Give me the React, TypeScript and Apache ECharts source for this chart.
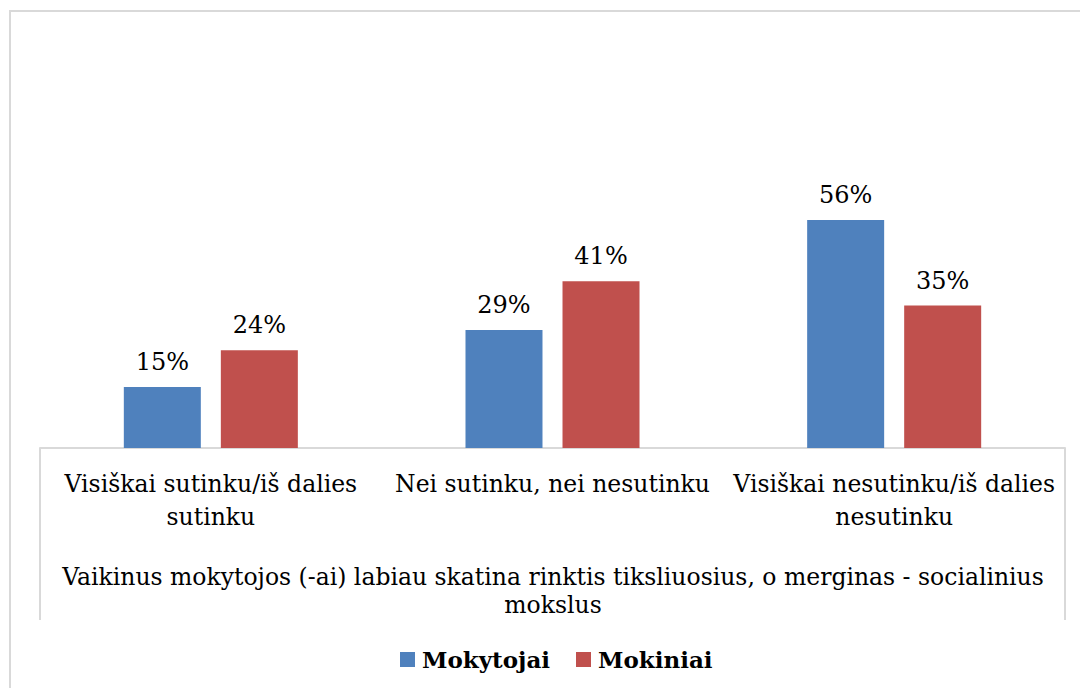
import React, { useEffect, useRef } from "react";
import * as echarts from "echarts";

const categories = [
  "Visiškai sutinku/iš dalies\nsutinku",
  "Nei sutinku, nei nesutinku",
  "Visiškai nesutinku/iš dalies\nnesutinku",
];
const seriesNames = ["Mokytojai", "Mokiniai"];
const mokytojai = [15, 29, 56];
const mokiniai = [24, 41, 35];
const groupTitleLines = [
  "Vaikinus mokytojos (-ai) labiau skatina rinktis tiksliuosius, o merginas - socialinius",
  "mokslus",
];

const FONT = "DejaVu Serif";

export default function App() {
  const ref = useRef<HTMLDivElement>(null);
  useEffect(() => {
    document.body.style.margin = "0";
    const chart = echarts.init(ref.current!, null, { renderer: "svg" });
    const label = {
      show: true,
      position: "top" as const,
      distance: 13,
      formatter: "{c}%",
      fontFamily: FONT,
      fontSize: 24,
      color: "#000",
    };
    chart.setOption({
      animation: false,
      backgroundColor: "#fff",
      grid: { left: 40, right: 15, top: 41, bottom: 240 },
      legend: {
        bottom: 12,
        left: 395,
        itemWidth: 15,
        itemHeight: 15,
        itemGap: 26,
        icon: "rect",
        textStyle: {
          fontFamily: FONT,
          fontSize: 23,
          fontWeight: "bold",
          color: "#000",
          padding: [0, 0, 0, 2],
        },
        data: seriesNames,
      },
      xAxis: {
        type: "category",
        data: categories,
        axisLine: { lineStyle: { color: "#d9d9d9", width: 2 } },
        axisTick: { show: false },
        axisLabel: {
          interval: 0,
          margin: 19,
          fontFamily: FONT,
          fontSize: 23.5,
          lineHeight: 33,
          color: "#000",
        },
      },
      yAxis: { type: "value", min: 0, max: 100, show: false },
      series: [
        {
          name: seriesNames[0],
          type: "bar",
          data: mokytojai,
          barWidth: 77,
          barGap: "26%",
          itemStyle: { color: "#4F81BD" },
          label,
        },
        {
          name: seriesNames[1],
          type: "bar",
          data: mokiniai,
          barWidth: 77,
          itemStyle: { color: "#C0504D" },
          label,
        },
      ],
      graphic: [
        {
          type: "rect",
          shape: { x: 10, y: 11, width: 1200, height: 900 },
          style: { fill: "none", stroke: "#d9d9d9", lineWidth: 2 },
          silent: true,
        },
        {
          type: "line",
          shape: { x1: 40, y1: 448, x2: 40, y2: 620 },
          style: { stroke: "#d9d9d9", lineWidth: 2 },
        },
        {
          type: "line",
          shape: { x1: 1065, y1: 448, x2: 1065, y2: 620 },
          style: { stroke: "#d9d9d9", lineWidth: 2 },
        },
        {
          type: "text",
          x: 553,
          y: 577,
          style: {
            text: groupTitleLines[0],
            fontFamily: FONT,
            fontSize: 23.5,
            fill: "#000",
            align: "center",
            verticalAlign: "middle",
          },
        },
        {
          type: "text",
          x: 553,
          y: 605,
          style: {
            text: groupTitleLines[1],
            fontFamily: FONT,
            fontSize: 23.5,
            fill: "#000",
            align: "center",
            verticalAlign: "middle",
          },
        },
      ],
    });
    return () => chart.dispose();
  }, []);
  return <div ref={ref} style={{ width: 1080, height: 688 }} />;
}
